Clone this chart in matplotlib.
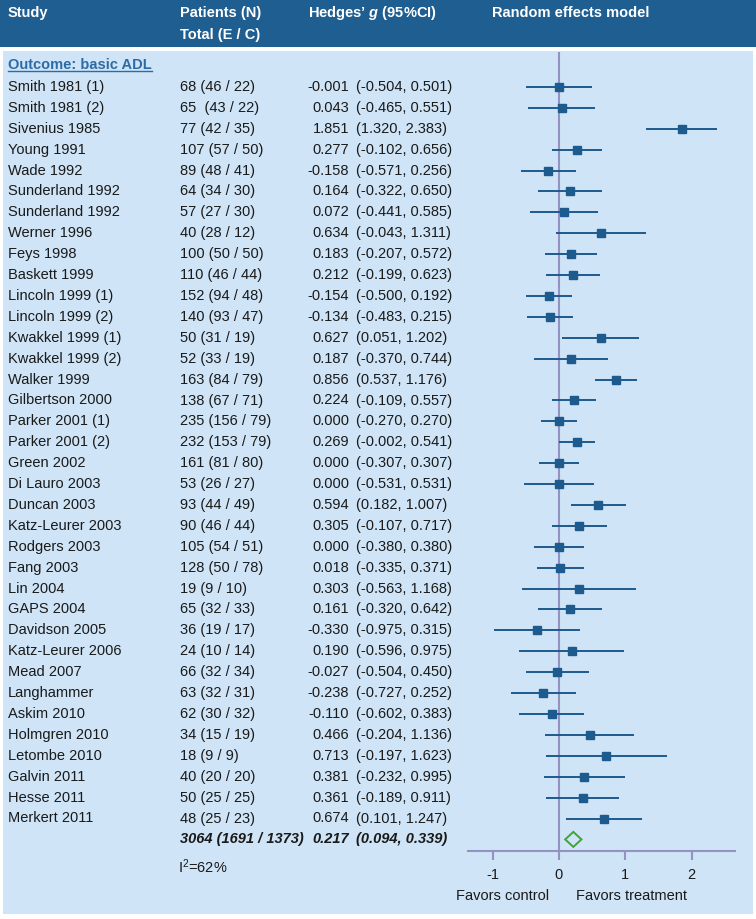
import matplotlib
matplotlib.use('Agg')
import matplotlib.pyplot as plt
from matplotlib.patches import Rectangle, Polygon
from matplotlib.lines import Line2D
import matplotlib.transforms as mtransforms

# ---------------- data ----------------
studies = ["Smith 1981 (1)", "Smith 1981 (2)", "Sivenius 1985", "Young 1991", "Wade 1992",
           "Sunderland 1992", "Sunderland 1992", "Werner 1996", "Feys 1998", "Baskett 1999",
           "Lincoln 1999 (1)", "Lincoln 1999 (2)", "Kwakkel 1999 (1)", "Kwakkel 1999 (2)",
           "Walker 1999", "Gilbertson 2000", "Parker 2001 (1)", "Parker 2001 (2)", "Green 2002",
           "Di Lauro 2003", "Duncan 2003", "Katz-Leurer 2003", "Rodgers 2003", "Fang 2003",
           "Lin 2004", "GAPS 2004", "Davidson 2005", "Katz-Leurer 2006", "Mead 2007",
           "Langhammer", "Askim 2010", "Holmgren 2010", "Letombe 2010", "Galvin 2011",
           "Hesse 2011", "Merkert 2011"]
patients = ["68 (46 / 22)", "65  (43 / 22)", "77 (42 / 35)", "107 (57 / 50)", "89 (48 / 41)",
            "64 (34 / 30)", "57 (27 / 30)", "40 (28 / 12)", "100 (50 / 50)", "110 (46 / 44)",
            "152 (94 / 48)", "140 (93 / 47)", "50 (31 / 19)", "52 (33 / 19)", "163 (84 / 79)",
            "138 (67 / 71)", "235 (156 / 79)", "232 (153 / 79)", "161 (81 / 80)", "53 (26 / 27)",
            "93 (44 / 49)", "90 (46 / 44)", "105 (54 / 51)", "128 (50 / 78)", "19 (9 / 10)",
            "65 (32 / 33)", "36 (19 / 17)", "24 (10 / 14)", "66 (32 / 34)", "63 (32 / 31)",
            "62 (30 / 32)", "34 (15 / 19)", "18 (9 / 9)", "40 (20 / 20)", "50 (25 / 25)",
            "48 (25 / 23)"]
g = [-0.001, 0.043, 1.851, 0.277, -0.158, 0.164, 0.072, 0.634, 0.183, 0.212,
     -0.154, -0.134, 0.627, 0.187, 0.856, 0.224, 0.000, 0.269, 0.000, 0.000,
     0.594, 0.305, 0.000, 0.018, 0.303, 0.161, -0.330, 0.190, -0.027, -0.238,
     -0.110, 0.466, 0.713, 0.381, 0.361, 0.674]
ci_lo = [-0.504, -0.465, 1.320, -0.102, -0.571, -0.322, -0.441, -0.043, -0.207, -0.199,
         -0.500, -0.483, 0.051, -0.370, 0.537, -0.109, -0.270, -0.002, -0.307, -0.531,
         0.182, -0.107, -0.380, -0.335, -0.563, -0.320, -0.975, -0.596, -0.504, -0.727,
         -0.602, -0.204, -0.197, -0.232, -0.189, 0.101]
ci_hi = [0.501, 0.551, 2.383, 0.656, 0.256, 0.650, 0.585, 1.311, 0.572, 0.623,
         0.192, 0.215, 1.202, 0.744, 1.176, 0.557, 0.270, 0.541, 0.307, 0.531,
         1.007, 0.717, 0.380, 0.371, 1.168, 0.642, 0.315, 0.975, 0.450, 0.252,
         0.383, 1.136, 1.623, 0.995, 0.911, 1.247]
summary_patients = "3064 (1691 / 1373)"
summary_g = 0.217
summary_lo = 0.094
summary_hi = 0.339
heterogeneity = "I$^{2}$=62%"
outcome_label = "Outcome: basic ADL"
xticks = [-1, 0, 1, 2]
xtick_labels = ["-1", "0", "1", "2"]

# ---------------- style ----------------
plt.rcParams['font.family'] = ['Liberation Sans', 'DejaVu Sans']
plt.rcParams['mathtext.fontset'] = 'custom'
plt.rcParams['mathtext.rm'] = 'Liberation Sans'
plt.rcParams['mathtext.it'] = 'Liberation Sans:italic:bold'
plt.rcParams['mathtext.bf'] = 'Liberation Sans:bold'
plt.rcParams['axes.unicode_minus'] = False

HEADER = '#1f5e91'
PANEL = '#cfe4f6'
BLUE = '#1d5a8e'
LINE = '#9392c2'
GREEN = '#3fa535'
TEXT = '#1a1a1a'
LINK = '#2c6ca6'
FS = 10.5

W, H = 756, 919
fig = plt.figure(figsize=(W / 100, H / 100), dpi=100)
fig.patch.set_facecolor('white')


def fx(px):
    return px / W


def fy(py):
    return 1 - py / H


# background panels
fig.add_artist(Rectangle((0, fy(47)), 1, 47 / H, transform=fig.transFigure,
                         facecolor=HEADER, edgecolor='none', zorder=0))
fig.add_artist(Rectangle((fx(3), fy(914)), fx(753) - fx(3), (914 - 51) / H,
                         transform=fig.transFigure, facecolor=PANEL, edgecolor='none', zorder=0))

# header texts
hdr = dict(color='white', fontweight='bold', fontsize=FS, va='center', ha='left')
fig.text(fx(8), fy(13), "Study", **hdr)
fig.text(fx(180), fy(13), "Patients (N)", **hdr)
fig.text(fx(180), fy(35), "Total (E / C)", **hdr)
fig.text(fx(308), fy(13), "Hedges\u2019 $\\it{g}$ (95%CI)", **hdr)
fig.text(fx(492), fy(13), "Random effects model", **hdr)

# forest axes
ROW0, ROWSTEP = 87, 20.9
ax_top, ax_bot = 52, 851
ax = fig.add_axes([fx(468), fy(ax_bot), fx(735) - fx(468), (ax_bot - ax_top) / H])
ax.set_facecolor('none')
ax.set_xlim(-1.372, 2.655)
ax.set_ylim((ax_bot - ROW0) / ROWSTEP, (ax_top - ROW0) / ROWSTEP)
for s in ['top', 'left', 'right']:
    ax.spines[s].set_visible(False)
ax.spines['bottom'].set_color(LINE)
ax.spines['bottom'].set_linewidth(1.5)
ax.set_yticks([])
ax.set_xticks(xticks)
ax.set_xticklabels(xtick_labels)
ax.tick_params(axis='x', direction='out', length=6.5, width=1.5, color=LINE,
               labelcolor=TEXT, labelsize=FS, pad=5.5)
ax.axvline(0, color=LINE, lw=1.5, zorder=1)

rows = list(range(len(studies)))
ax.hlines(rows, ci_lo, ci_hi, color=BLUE, lw=1.4, zorder=3)
ax.plot(g, rows, 's', ms=6.2, color=BLUE, zorder=4, linestyle='none')

srow = len(studies)
dh = 7.5 / ROWSTEP
ax.add_patch(Polygon([(summary_lo, srow), (summary_g, srow - dh), (summary_hi, srow),
                      (summary_g, srow + dh)], closed=True, facecolor='none',
                     edgecolor=GREEN, lw=1.4, zorder=4))

# table text
tr = mtransforms.blended_transform_factory(fig.transFigure, ax.transData)
common = dict(transform=tr, fontsize=FS, color=TEXT, va='center', clip_on=False)
for i, (name, n, gv, lo, hi) in enumerate(zip(studies, patients, g, ci_lo, ci_hi)):
    fig.text(fx(8), i, name, ha='left', **common)
    fig.text(fx(180), i, n, ha='left', **common)
    fig.text(fx(349), i, f"{gv:.3f}", ha='right', **common)
    fig.text(fx(356), i, f"({lo:.3f}, {hi:.3f})", ha='left', **common)

bi = dict(fontweight='bold', fontstyle='italic')
fig.text(fx(180), srow, summary_patients, ha='left', **bi, **common)
fig.text(fx(349), srow, f"{summary_g:.3f}", ha='right', **bi, **common)
fig.text(fx(356), srow, f"({summary_lo:.3f}, {summary_hi:.3f})", ha='left', **bi, **common)
fig.text(fx(178), (867 - ROW0) / ROWSTEP, heterogeneity, ha='left', **common)

outc = fig.text(fx(8), (65 - ROW0) / ROWSTEP, outcome_label, ha='left', transform=tr,
                fontsize=FS, color=LINK, fontweight='bold', va='center', clip_on=False)

# favors labels
fig.text(fx(503), fy(896), "Favors control", ha='center', va='center', fontsize=FS, color=TEXT)
fig.text(fx(632), fy(896), "Favors treatment", ha='center', va='center', fontsize=FS, color=TEXT)

# underline the outcome label
fig.canvas.draw()
bb = outc.get_window_extent(fig.canvas.get_renderer())
yline = bb.y0 + 1.0
fig.add_artist(Line2D([bb.x0, bb.x1], [yline, yline], transform=mtransforms.IdentityTransform(),
                      color=LINK, lw=1.0))

fig.savefig('out.png', dpi=100, facecolor='white')
